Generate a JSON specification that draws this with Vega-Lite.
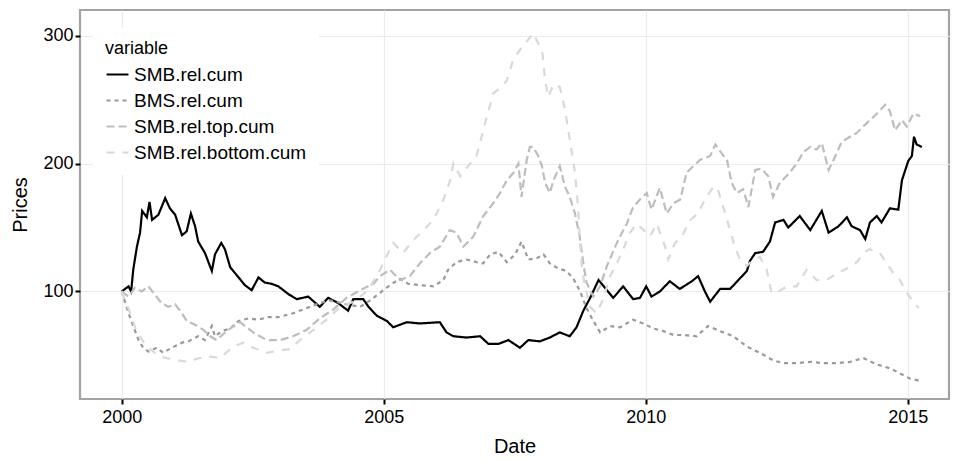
{
  "$schema": "https://vega.github.io/schema/vega-lite/v6.json",
  "width": 869,
  "height": 389,
  "autosize": {"type": "none"},
  "padding": {"left": 80, "top": 10, "right": 4, "bottom": 61},
  "background": "white",
  "config": {
    "font": "Liberation Sans",
    "view": {"stroke": "#a3a3a3", "strokeWidth": 2.2},
    "axis": {
      "grid": true,
      "gridColor": "#ebebeb",
      "gridWidth": 1.2,
      "domain": false,
      "tickColor": "#000000",
      "tickSize": 5,
      "tickWidth": 2,
      "labelColor": "#000000",
      "labelFontSize": 18,
      "titleFontSize": 20,
      "titleFontWeight": "normal",
      "titleColor": "#000000"
    },
    "legend": {
      "fillColor": "white",
      "padding": 12,
      "titleFontSize": 18,
      "titleFontWeight": "normal",
      "titleColor": "#000000",
      "titlePadding": 4,
      "labelFontSize": 19,
      "labelColor": "#000000",
      "labelLimit": 400,
      "labelOffset": 4,
      "symbolType": "stroke",
      "symbolSize": 480,
      "symbolStrokeWidth": 2.2,
      "rowPadding": 3
    }
  },
  "data": {
    "values": [
      {
        "variable": "SMB.rel.cum",
        "Date": [2000.00,2000.13,2000.18,2000.22,2000.29,2000.35,2000.39,2000.48,2000.53,2000.58,2000.70,2000.83,2000.92,2001.02,2001.15,2001.24,2001.32,2001.40,2001.46,2001.59,2001.72,2001.78,2001.90,2001.97,2002.07,2002.23,2002.35,2002.48,2002.61,2002.73,2002.86,2002.99,2003.18,2003.34,2003.56,2003.78,2003.94,2004.13,2004.32,2004.42,2004.61,2004.71,2004.87,2005.06,2005.18,2005.44,2005.69,2006.07,2006.20,2006.33,2006.58,2006.84,2007.00,2007.19,2007.38,2007.60,2007.76,2007.98,2008.17,2008.36,2008.55,2008.68,2008.81,2008.94,2009.10,2009.22,2009.38,2009.57,2009.76,2009.89,2010.01,2010.11,2010.27,2010.46,2010.65,2010.88,2011.00,2011.13,2011.23,2011.42,2011.61,2011.77,2011.93,2011.99,2012.09,2012.24,2012.37,2012.47,2012.63,2012.72,2012.94,2013.14,2013.36,2013.49,2013.68,2013.84,2013.93,2014.09,2014.19,2014.28,2014.41,2014.50,2014.66,2014.82,2014.89,2015.01,2015.08,2015.12,2015.17,2015.27],
        "Prices": [100,104,100,117,135,146,163,158,170,156,160,173,165,160,144,147,161,151,139,130,116,129,138,133,119,111,105,101,111,107,106,104,98,94,96,88,95,91,85,94,94,88,81,77,72,76,75,76,68,65,64,65,59,59,62,56,62,61,64,68,65,72,85,95,109,103,95,104,94,95,104,96,100,108,102,108,112,100,92,102,102,109,116,124,130,131,139,154,156,150,159,148,163,146,151,158,151,148,141,154,159,154,165,164,187,202,206,221,215,213]
      },
      {
        "variable": "BMS.rel.cum",
        "Date": [2000.00,2000.13,2000.22,2000.32,2000.41,2000.51,2000.67,2000.79,2000.95,2001.15,2001.27,2001.46,2001.59,2001.72,2001.78,2001.91,2002.07,2002.23,2002.42,2002.61,2002.80,2002.99,2003.18,2003.27,2003.53,2003.78,2003.98,2004.29,2004.55,2004.74,2004.93,2005.12,2005.31,2005.47,2005.69,2005.95,2006.14,2006.23,2006.39,2006.58,2006.77,2006.90,2007.03,2007.19,2007.35,2007.51,2007.63,2007.76,2007.92,2008.05,2008.17,2008.33,2008.49,2008.62,2008.75,2008.87,2009.00,2009.13,2009.32,2009.51,2009.76,2009.95,2010.15,2010.34,2010.53,2010.72,2010.97,2011.19,2011.42,2011.67,2011.93,2012.18,2012.44,2012.63,2012.88,2013.14,2013.39,2013.65,2013.90,2014.15,2014.41,2014.66,2014.85,2015.04,2015.24],
        "Prices": [100,83,73,62,56,53,56,52,56,60,61,65,62,73,65,69,71,77,79,78,80,80,82,83,87,91,93,90,88,93,99,105,110,106,105,104,109,117,123,125,123,122,129,131,123,129,139,125,126,129,122,118,116,110,100,87,77,68,73,72,78,75,71,69,66,66,65,73,69,65,57,52,46,44,44,45,44,44,45,48,43,40,36,32,30]
      },
      {
        "variable": "SMB.rel.top.cum",
        "Date": [2000.00,2000.13,2000.25,2000.38,2000.51,2000.64,2000.76,2000.89,2001.02,2001.15,2001.24,2001.40,2001.56,2001.69,2001.81,2002.03,2002.26,2002.51,2002.77,2003.02,2003.27,2003.53,2003.78,2004.04,2004.29,2004.55,2004.80,2004.93,2005.12,2005.31,2005.50,2005.69,2005.88,2006.07,2006.26,2006.39,2006.52,2006.71,2006.90,2007.09,2007.22,2007.35,2007.48,2007.57,2007.63,2007.73,2007.79,2007.85,2007.95,2008.02,2008.08,2008.17,2008.24,2008.36,2008.46,2008.55,2008.65,2008.74,2008.81,2008.87,2009.00,2009.13,2009.26,2009.45,2009.51,2009.64,2009.76,2009.89,2010.02,2010.11,2010.27,2010.40,2010.53,2010.66,2010.78,2010.91,2011.04,2011.23,2011.33,2011.45,2011.55,2011.64,2011.74,2011.86,2011.96,2012.09,2012.21,2012.34,2012.43,2012.56,2012.75,2012.88,2013.01,2013.14,2013.26,2013.36,2013.49,2013.62,2013.74,2013.90,2014.03,2014.15,2014.28,2014.41,2014.57,2014.66,2014.76,2014.89,2014.98,2015.11,2015.24],
        "Prices": [100,96,103,100,104,97,91,88,90,83,77,74,70,65,62,70,76,68,62,62,65,70,79,86,95,101,106,112,117,109,112,122,130,135,148,146,135,143,159,169,177,187,193,200,174,203,213,213,206,198,185,177,187,198,182,174,161,143,122,107,96,104,120,138,143,153,166,172,177,164,181,161,169,172,193,198,203,206,215,208,203,185,177,180,166,195,196,190,174,185,193,200,209,213,211,216,195,206,217,221,224,229,234,239,246,241,226,234,229,239,237]
      },
      {
        "variable": "SMB.rel.bottom.cum",
        "Date": [2000.00,2000.16,2000.29,2000.48,2000.73,2000.98,2001.24,2001.49,2001.69,2001.88,2002.13,2002.32,2002.51,2002.77,2003.02,2003.21,2003.40,2003.66,2003.91,2004.17,2004.42,2004.68,2004.87,2005.06,2005.18,2005.37,2005.56,2005.76,2005.95,2006.14,2006.27,2006.33,2006.46,2006.61,2006.77,2006.90,2006.97,2007.09,2007.22,2007.35,2007.47,2007.60,2007.76,2007.85,2007.95,2008.03,2008.08,2008.14,2008.24,2008.36,2008.46,2008.55,2008.65,2008.71,2008.74,2008.78,2008.84,2008.94,2009.06,2009.19,2009.32,2009.45,2009.57,2009.70,2009.83,2009.96,2010.08,2010.21,2010.37,2010.43,2010.56,2010.69,2010.85,2011.00,2011.13,2011.26,2011.36,2011.48,2011.61,2011.70,2011.80,2011.93,2012.05,2012.18,2012.31,2012.40,2012.50,2012.69,2012.88,2013.07,2013.26,2013.45,2013.65,2013.84,2014.03,2014.18,2014.28,2014.47,2014.60,2014.73,2014.85,2014.98,2015.11,2015.21],
        "Prices": [100,83,68,57,49,47,45,48,49,48,57,60,56,52,54,55,62,70,78,88,92,100,112,128,138,130,140,148,156,172,187,200,190,198,206,226,237,255,259,265,281,289,297,302,294,286,265,252,262,260,242,219,193,166,143,120,104,88,83,94,112,122,133,146,153,148,143,153,135,125,138,143,156,161,172,180,182,166,148,135,125,120,125,127,117,99,99,104,104,117,109,109,114,118,123,131,133,130,122,114,109,99,92,87]
      }
    ]
  },
  "transform": [{"flatten": ["Date", "Prices"]}],
  "mark": {"type": "line", "strokeWidth": 2.2},
  "encoding": {
    "x": {
      "field": "Date",
      "type": "quantitative",
      "scale": {"domain": [1999.204, 2015.788], "nice": false, "zero": false},
      "axis": {"values": [2000, 2005, 2010, 2015], "format": "d", "labelPadding": 4, "titlePadding": 10}
    },
    "y": {
      "field": "Prices",
      "type": "quantitative",
      "scale": {"domain": [15.94, 320.1], "nice": false, "zero": false},
      "axis": {"values": [100, 200, 300], "titlePadding": 12}
    },
    "color": {
      "field": "variable",
      "type": "nominal",
      "scale": {
        "domain": ["SMB.rel.cum", "BMS.rel.cum", "SMB.rel.top.cum", "SMB.rel.bottom.cum"],
        "range": ["#000000", "#9a9a9a", "#bdbdbd", "#d9d9d9"]
      },
      "legend": {"orient": "none", "legendX": 13, "legendY": 18}
    },
    "strokeDash": {
      "field": "variable",
      "type": "nominal",
      "scale": {
        "domain": ["SMB.rel.cum", "BMS.rel.cum", "SMB.rel.top.cum", "SMB.rel.bottom.cum"],
        "range": [[1, 0], [4, 4], [8, 4], [8, 8]]
      },
      "legend": {"orient": "none", "legendX": 13, "legendY": 18}
    }
  }
}
